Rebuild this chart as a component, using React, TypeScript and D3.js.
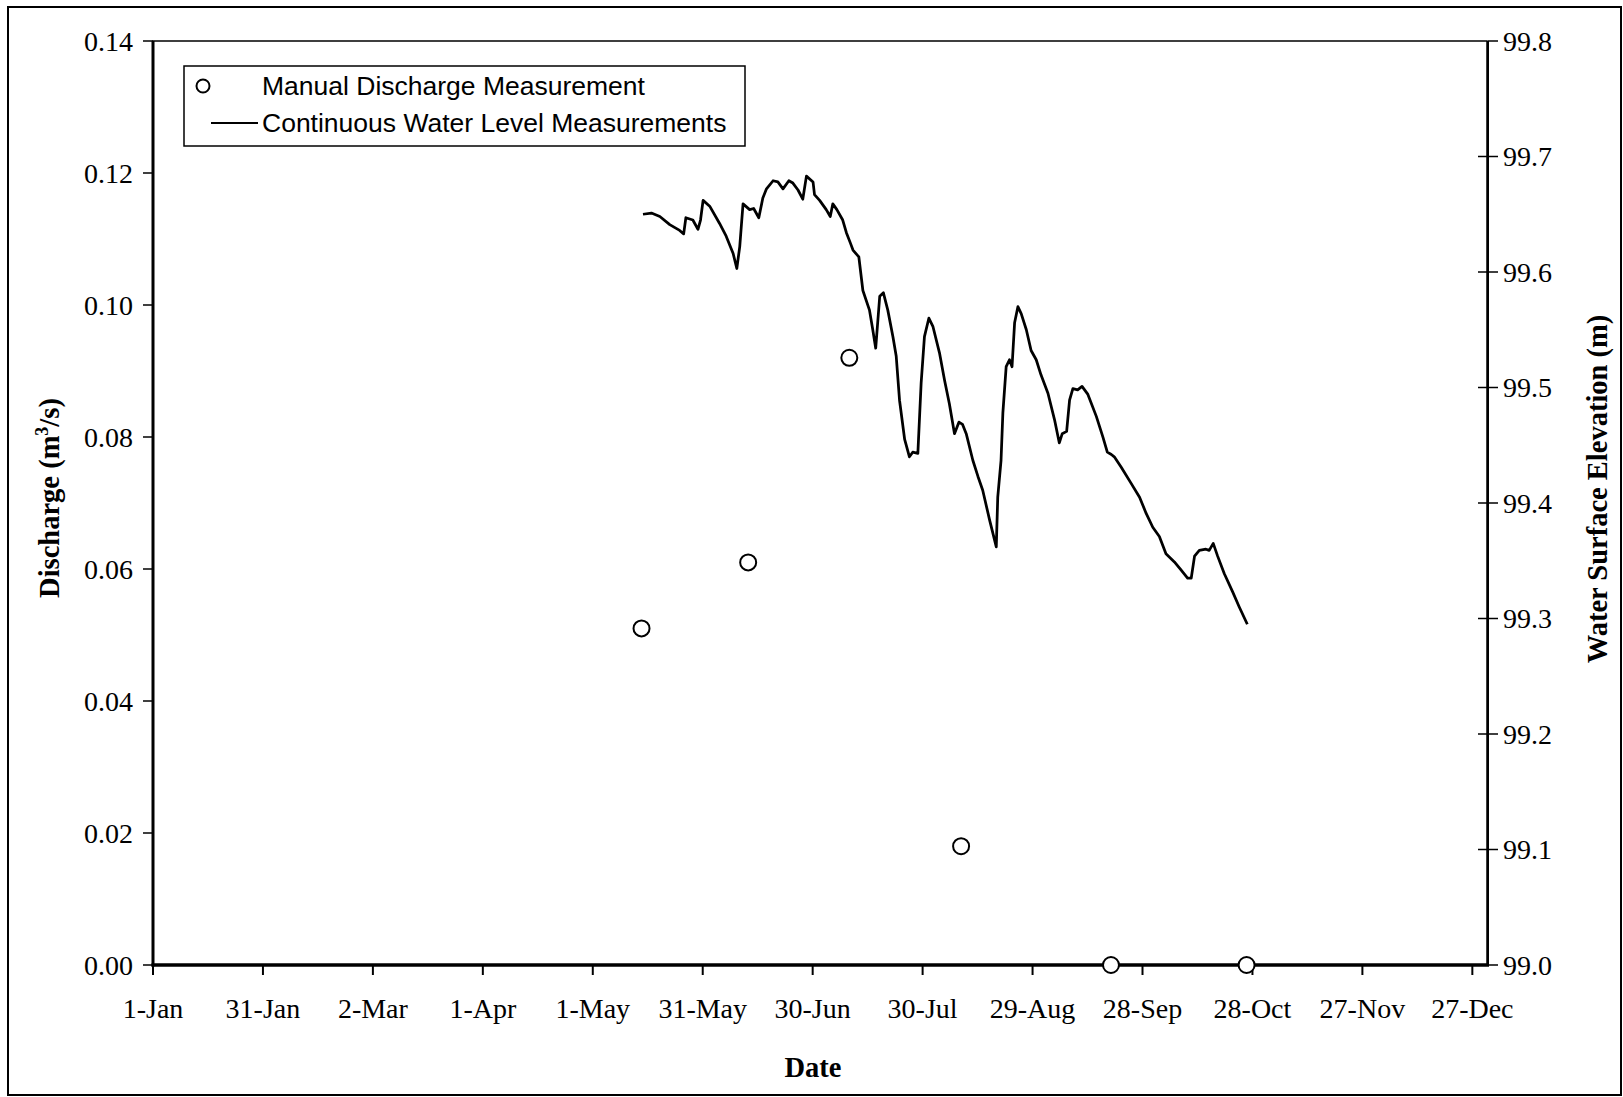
import React from "react";
import * as d3 from "d3";

// x values are days since 1 January
const xTickDays = [0, 30, 60, 90, 120, 150, 180, 210, 240, 270, 300, 330, 360];
const xTickLabels = ["1-Jan", "31-Jan", "2-Mar", "1-Apr", "1-May", "31-May", "30-Jun", "30-Jul", "29-Aug", "28-Sep", "28-Oct", "27-Nov", "27-Dec"];
const leftTicks = [0, 0.02, 0.04, 0.06, 0.08, 0.1, 0.12, 0.14];
const rightTicks = [99.0, 99.1, 99.2, 99.3, 99.4, 99.5, 99.6, 99.7, 99.8];

// Manual discharge measurements (m3/s)
const dischargeDays = [133.3, 162.4, 190.0, 220.5, 261.4, 298.4];
const dischargeValues = [0.051, 0.061, 0.092, 0.018, 0.0, 0.0];

// Continuous water level (m)
const levelDays = [
  133.7, 136.0, 138.3, 141.0, 143.7, 144.8, 145.4, 147.3, 148.7, 149.4, 150.1, 151.9, 154.6, 156.4, 158.3, 159.3,
  160.1, 161.0, 162.8, 163.9, 165.3, 166.4, 167.4, 169.2, 170.5, 171.9, 173.5, 174.6, 176.0, 177.3, 178.3, 180.1,
  180.5, 181.9, 183.7, 184.8, 185.5, 186.6, 188.2, 189.2, 190.3, 191.0, 192.6, 193.7, 195.5, 196.4, 197.2, 198.3,
  199.3, 200.5, 201.9, 202.8, 203.7, 205.1, 206.4, 207.3, 208.7, 209.6, 210.5, 211.7, 212.8, 214.6, 216.0, 217.3,
  218.7, 219.9, 220.9, 221.9, 223.7, 225.1, 226.4, 228.3, 230.1, 230.5, 231.4, 231.9, 232.8, 233.7, 234.4, 235.1,
  236.0, 236.9, 238.3, 239.6, 241.0, 242.3, 244.2, 246.0, 247.3, 248.1, 249.3, 250.1, 251.0, 252.3, 253.5, 255.1,
  257.4, 259.2, 260.4, 261.5, 262.3, 264.2, 266.9, 269.2, 271.0, 272.8, 274.6, 276.4, 278.7, 280.5, 282.3, 283.3,
  284.2, 285.5, 287.3, 288.2, 289.3, 290.5, 292.3, 294.6, 296.4, 298.6,
];
const levelValues = [
  99.650, 99.651, 99.648, 99.641, 99.636, 99.633, 99.647, 99.645, 99.637, 99.645, 99.662, 99.657, 99.642, 99.631, 99.616, 99.603,
  99.622, 99.659, 99.654, 99.655, 99.647, 99.664, 99.672, 99.679, 99.678, 99.672, 99.679, 99.677, 99.671, 99.663, 99.683, 99.678,
  99.667, 99.662, 99.654, 99.648, 99.659, 99.654, 99.645, 99.634, 99.625, 99.619, 99.613, 99.584, 99.567, 99.550, 99.534, 99.579,
  99.582, 99.567, 99.544, 99.527, 99.489, 99.455, 99.440, 99.444, 99.443, 99.504, 99.544, 99.560, 99.553, 99.530, 99.506, 99.486,
  99.460, 99.470, 99.468, 99.460, 99.437, 99.423, 99.411, 99.385, 99.362, 99.405, 99.437, 99.478, 99.518, 99.524, 99.518, 99.556,
  99.570, 99.564, 99.550, 99.532, 99.524, 99.511, 99.495, 99.472, 99.452, 99.460, 99.462, 99.489, 99.499, 99.498, 99.501, 99.494,
  99.475, 99.457, 99.444, 99.442, 99.440, 99.431, 99.417, 99.405, 99.391, 99.379, 99.371, 99.356, 99.349, 99.342, 99.335, 99.335,
  99.354, 99.359, 99.360, 99.359, 99.365, 99.354, 99.339, 99.323, 99.310, 99.295,
];

const W = 1623;
const H = 1097;
const L = 153;
const R = 1487;
const T = 41;
const B = 965;

const serif = "'Liberation Serif', 'Times New Roman', serif";
const sans = "'Liberation Sans', Arial, sans-serif";
const tickFont = 28;
const titleFont = 28.5;

export default function App() {
  const x = d3.scaleLinear().domain([0, 364]).range([L, R]);
  const yL = d3.scaleLinear().domain([0, 0.14]).range([B, T]);
  const yR = d3.scaleLinear().domain([99.0, 99.8]).range([B, T]);

  const levelData = levelDays.map((d, i) => [d, levelValues[i]] as [number, number]);
  const linePath = d3
    .line<[number, number]>()
    .x((d) => x(d[0]))
    .y((d) => yR(d[1]))(levelData) as string;

  const fmtL = d3.format(".2f");
  const fmtR = d3.format(".1f");

  return (
    <svg
      width={W}
      height={H}
      style={{ position: "absolute", left: 0, top: 0, background: "#fff" }}
    >
      <rect x={0} y={0} width={W} height={H} fill="#fff" />
      <rect x={8} y={7} width={1613} height={1088} fill="none" stroke="#000" strokeWidth={2} />

      {/* plot area frame */}
      <rect x={L} y={T} width={R - L} height={B - T} fill="none" stroke="#000" strokeWidth={1.5} />

      {/* left axis */}
      <line x1={L} y1={T} x2={L} y2={B + 1.5} stroke="#000" strokeWidth={3} />
      {leftTicks.map((t) => (
        <g key={"l" + t}>
          <line x1={L - 10} x2={L} y1={yL(t)} y2={yL(t)} stroke="#000" strokeWidth={1.5} />
          <text
            x={L - 20}
            y={yL(t)}
            dy="0.34em"
            textAnchor="end"
            fontFamily={serif}
            fontSize={tickFont}
          >
            {fmtL(t)}
          </text>
        </g>
      ))}

      {/* right axis */}
      <line x1={R + 1} y1={T} x2={R + 1} y2={B} stroke="#000" strokeWidth={2} />
      {rightTicks.map((t) => (
        <g key={"r" + t}>
          <line x1={t === 99.8 || t === 99.0 ? R + 1 : R - 9} x2={R + 11} y1={yR(t)} y2={yR(t)} stroke="#000" strokeWidth={1.5} />
          <text x={R + 16} y={yR(t)} dy="0.34em" textAnchor="start" fontFamily={serif} fontSize={tickFont}>
            {fmtR(t)}
          </text>
        </g>
      ))}

      {/* bottom axis */}
      <line x1={L - 1.5} y1={B} x2={R + 2} y2={B} stroke="#000" strokeWidth={3.5} />
      {xTickDays.map((d, i) => (
        <g key={"x" + d}>
          <line x1={x(d)} x2={x(d)} y1={B} y2={B + 10} stroke="#000" strokeWidth={2} />
          <text x={x(d)} y={B + 53} textAnchor="middle" fontFamily={serif} fontSize={tickFont}>
            {xTickLabels[i]}
          </text>
        </g>
      ))}

      {/* axis titles */}
      <text x={(L + R) / 2 - 7} y={1077} textAnchor="middle" fontFamily={serif} fontSize={titleFont} fontWeight="bold">
        Date
      </text>
      <text
        transform={`translate(59, 498) rotate(-90)`}
        textAnchor="middle"
        fontFamily={serif}
        fontSize={titleFont}
        fontWeight="bold"
      >
        Discharge (m
        <tspan fontSize={18} dy={-11}>3</tspan>
        <tspan dy={11}>/s)</tspan>
      </text>
      <text
        transform={`translate(1607, 489) rotate(-90)`}
        textAnchor="middle"
        fontFamily={serif}
        fontSize={titleFont}
        fontWeight="bold"
      >
        Water Surface Elevation (m)
      </text>

      {/* water level line */}
      <path d={linePath} fill="none" stroke="#000" strokeWidth={2.75} strokeLinejoin="round" />

      {/* discharge points */}
      {dischargeDays.map((d, i) => (
        <circle
          key={"p" + i}
          cx={x(d)}
          cy={yL(dischargeValues[i])}
          r={8}
          fill="#fff"
          stroke="#000"
          strokeWidth={2}
        />
      ))}

      {/* legend */}
      <rect x={184} y={66} width={561} height={80} fill="#fff" stroke="#000" strokeWidth={1.5} />
      <circle cx={203} cy={86} r={6.5} fill="#fff" stroke="#000" strokeWidth={2} />
      <text x={262} y={95} fontFamily={sans} fontSize={26.5}>
        Manual Discharge Measurement
      </text>
      <line x1={211} x2={258} y1={123} y2={123} stroke="#000" strokeWidth={2} />
      <text x={262} y={132} fontFamily={sans} fontSize={26.5}>
        Continuous Water Level Measurements
      </text>
    </svg>
  );
}
